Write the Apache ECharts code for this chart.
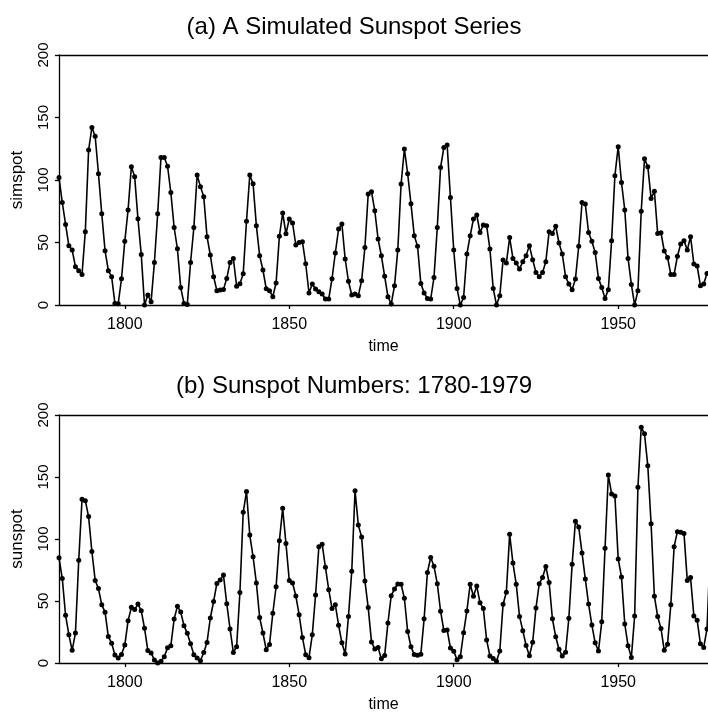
<!DOCTYPE html>
<html>
<head>
<meta charset="utf-8">
<title>Sunspot series</title>
<script src="https://cdn.jsdelivr.net/npm/echarts@6/dist/echarts.min.js"></script>
<style>
  html, body { margin: 0; padding: 0; background: #fff; }
  #chart { width: 708px; height: 714px; }
</style>
</head>
<body>
<div id="chart"></div>
<script>
const startYear = 1780;
// the original plot runs to 1979 but the picture is cut off just after 1977
const visibleEnd = 1977.3;

// (a) simulated series, one value per year from 1780
const simspot = [
  102, 82, 64.5, 47.5, 44, 30.7, 27.5, 24.5, 58.7, 124,
  142, 135, 105, 73, 43.5, 27.5, 22.7, 1.3, 1, 21,
  51, 76, 110.7, 102.7, 69, 40.5, 0, 8, 2.7, 34,
  73, 118, 118, 111, 90, 62, 45, 14, 1.3, 0.5,
  34, 62, 104, 94.7, 86.7, 54.7, 40, 22.7, 11.5, 12,
  12.5, 21.3, 34, 37.3, 15, 17, 25, 67, 104, 97,
  63.5, 39.5, 28, 13, 11.5, 6.7, 17.6, 55, 73.6, 57,
  68.8, 65.6, 48, 50, 50.7, 33, 9.6, 16.8, 12.8, 10.7,
  8.8, 4.8, 4.8, 21, 41.6, 60.8, 64.8, 36.8, 19, 8,
  8.8, 7.5, 19.5, 46, 88.8, 90.7, 75.5, 52.8, 39.5, 23,
  6.7, 0.8, 15.5, 44, 96.8, 124.8, 105, 81, 55.5, 47,
  17.3, 9.6, 5.3, 4.8, 22, 62, 110, 126, 128, 86,
  44, 13.3, 0, 6, 40.8, 55.5, 68.8, 72, 58, 64,
  63.5, 44.8, 13.3, 0, 7.5, 36, 33.6, 54, 37.3, 33.6,
  28.8, 34.7, 39.5, 47.5, 36.3, 26, 22.7, 26, 34.7, 58.7,
  57.3, 63, 49.6, 40.8, 22.7, 16.8, 12.3, 20.8, 47, 82,
  80.8, 58, 51, 42, 21.3, 14, 5.3, 12.3, 51.5, 103.5,
  126.7, 98, 76, 37.3, 16.5, 0, 11.5, 75, 117, 110.7,
  85.3, 91, 57.3, 57.9, 43.2, 38, 24.5, 24.5, 39, 48.8,
  51.5, 44, 54.7, 32.8, 31.2, 15.5, 16.8, 25.3
];

// (b) yearly sunspot numbers 1780-1979
const sunspot = [
  84.8, 68.1, 38.5, 22.8, 10.2, 24.1, 82.9, 132.0, 130.9, 118.1,
  89.9, 66.6, 60.0, 46.9, 41.0, 21.3, 16.0, 6.4, 4.1, 6.8,
  14.5, 34.0, 45.0, 43.1, 47.5, 42.2, 28.1, 10.1, 8.1, 2.5,
  0.0, 1.4, 5.0, 12.2, 13.9, 35.4, 45.8, 41.1, 30.1, 23.9,
  15.6, 6.6, 4.0, 1.8, 8.5, 16.6, 36.3, 49.6, 64.2, 67.0,
  70.9, 47.8, 27.5, 8.5, 13.2, 56.9, 121.5, 138.3, 103.2, 85.7,
  64.6, 36.7, 24.2, 10.7, 15.0, 40.1, 61.5, 98.5, 124.7, 96.3,
  66.6, 64.5, 54.1, 39.0, 20.6, 6.7, 4.3, 22.7, 54.8, 93.8,
  95.8, 77.2, 59.1, 44.0, 47.0, 30.5, 16.3, 7.3, 37.6, 74.0,
  139.0, 111.2, 101.6, 66.2, 44.7, 17.0, 11.3, 12.4, 3.4, 6.0,
  32.3, 54.3, 59.7, 63.7, 63.5, 52.2, 25.4, 13.1, 6.8, 6.3,
  7.1, 35.6, 73.0, 85.1, 78.0, 64.0, 41.8, 26.2, 26.7, 12.1,
  9.5, 2.7, 5.0, 24.4, 42.0, 63.5, 53.8, 62.0, 48.5, 43.9,
  18.6, 5.7, 3.6, 1.4, 9.6, 47.4, 57.1, 103.9, 80.6, 63.6,
  37.6, 26.1, 14.2, 5.8, 16.7, 44.3, 63.9, 69.0, 77.8, 64.9,
  35.7, 21.2, 11.1, 5.7, 8.7, 36.1, 79.7, 114.4, 109.6, 88.8,
  67.8, 47.5, 30.6, 16.3, 9.6, 33.2, 92.6, 151.6, 136.3, 134.7,
  83.9, 69.4, 31.5, 13.9, 4.4, 38.0, 141.7, 190.2, 184.8, 159.0,
  112.3, 53.9, 37.5, 27.9, 10.2, 15.1, 47.0, 93.8, 105.9, 105.5,
  104.5, 66.6, 68.9, 38.0, 34.5, 15.5, 12.6, 27.5, 92.5, 155.4
];

const yearTicks = [1800, 1850, 1900, 1950];
const titles = ['(a) A Simulated Sunspot Series', '(b) Sunspot Numbers: 1780-1979'];
const yNames = ['simspot', 'sunspot'];

const font = '"Liberation Sans", Arial, Helvetica, sans-serif';
const ink = '#000';
const axisLineStyle = { color: ink, width: 1.3 };

function toPairs(values) {
    return values.map((v, i) => [startYear + i, v]);
}

function makeXAxis(idx) {
    return {
        type: 'value',
        gridIndex: idx,
        min: startYear,
        max: visibleEnd,
        name: 'time',
        nameLocation: 'middle',
        nameGap: 34,
        nameTextStyle: { fontSize: 16, color: ink, fontFamily: font },
        axisLine: { show: true, onZero: false, lineStyle: axisLineStyle },
        axisTick: { show: true, customValues: yearTicks, length: 4, lineStyle: axisLineStyle },
        axisLabel: {
            customValues: yearTicks, fontSize: 16, margin: 12, color: ink, fontFamily: font,
            formatter: v => String(v)
        },
        splitLine: { show: false }
    };
}

// top frame line only (the right side of the frame is cut off in the picture)
function makeTopAxis(idx) {
    return {
        type: 'value',
        gridIndex: idx,
        position: 'top',
        min: startYear,
        max: visibleEnd,
        axisLine: { show: true, onZero: false, lineStyle: axisLineStyle },
        axisTick: { show: false },
        axisLabel: { show: false },
        splitLine: { show: false }
    };
}

function makeYAxis(idx) {
    return {
        type: 'value',
        gridIndex: idx,
        min: 0,
        max: 200,
        interval: 50,
        name: yNames[idx],
        nameLocation: 'middle',
        nameRotate: 90,
        nameGap: 33,
        nameTextStyle: { fontSize: 17, color: ink, fontFamily: font },
        axisLine: { show: true, lineStyle: axisLineStyle },
        axisTick: { show: true, length: 4, lineStyle: axisLineStyle },
        axisLabel: { rotate: 90, fontSize: 15, margin: 8, color: ink, fontFamily: font },
        splitLine: { show: false }
    };
}

function makeSeries(idx, values) {
    return {
        type: 'line',
        xAxisIndex: idx * 2,
        yAxisIndex: idx,
        data: toPairs(values),
        symbol: 'circle',
        symbolSize: 5,
        showAllSymbol: true,
        clip: true,
        lineStyle: { color: ink, width: 1.6 },
        itemStyle: { color: ink },
        animation: false
    };
}

const chart = echarts.init(document.getElementById('chart'), null, { renderer: 'canvas' });

chart.setOption({
    backgroundColor: '#fff',
    animation: false,
    title: [
        { text: titles[0], left: 'center', top: 10, textStyle: { fontSize: 24, fontWeight: 'normal', color: ink, fontFamily: font } },
        { text: titles[1], left: 'center', top: 369, textStyle: { fontSize: 24, fontWeight: 'normal', color: ink, fontFamily: font } }
    ],
    grid: [
        { left: 59, right: 0, top: 55, height: 250 },
        { left: 59, right: 0, top: 415, height: 248 }
    ],
    xAxis: [makeXAxis(0), makeTopAxis(0), makeXAxis(1), makeTopAxis(1)],
    yAxis: [makeYAxis(0), makeYAxis(1)],
    series: [makeSeries(0, simspot), makeSeries(1, sunspot)]
});
</script>
</body>
</html>
